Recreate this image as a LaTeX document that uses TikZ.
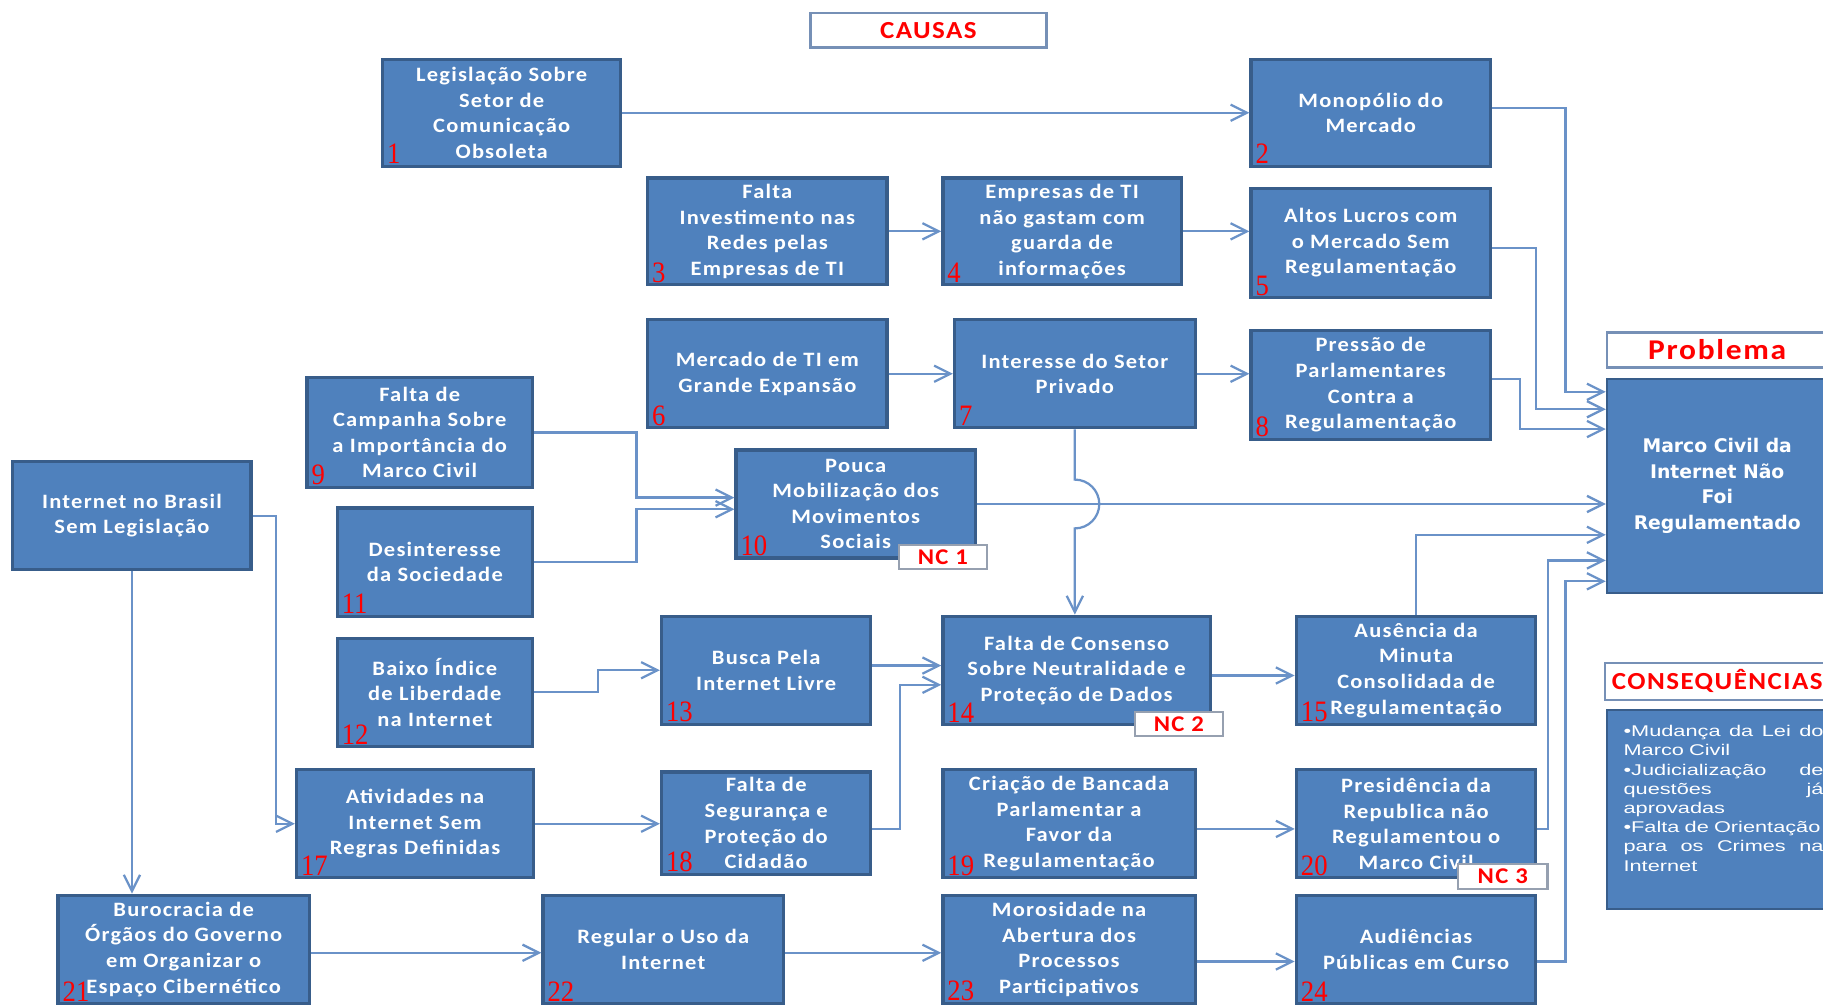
\documentclass[tikz,border=0pt]{standalone}
\usepackage{fontspec}
\usetikzlibrary{arrows.meta}
\newfontfamily\boxfont{Carlito}[FakeStretch=1.1,LetterSpace=6]
\newfontfamily\numfont{Liberation Serif}[FakeStretch=0.9]
\newfontfamily\probfont{DejaVu Sans}
\newfontfamily\consfont{Liberation Sans}[FakeStretch=1.4]
\definecolor{boxfill}{RGB}{79,129,189}
\definecolor{boxline}{RGB}{56,93,138}
\definecolor{linkblue}{RGB}{106,146,200}
\definecolor{tagline}{RGB}{118,144,182}
\definecolor{ncline}{RGB}{150,160,176}

\begin{document}
\begin{tikzpicture}[
  cause/.style={rectangle,draw=boxline,line width=1.6pt,fill=boxfill,text=white,align=center,
    inner sep=1pt,minimum width=4.12cm,minimum height=1.86cm,
    font=\boxfont\bfseries\fontsize{10}{12.5}\selectfont},
  numlbl/.style={anchor=south west,inner sep=0pt,text=red,font=\numfont\fontsize{14.5}{14.5}\selectfont},
  tagbox/.style={rectangle,draw=tagline,line width=1.2pt,fill=white,text=red,minimum height=0.6cm,
    font=\boxfont\bfseries\fontsize{12}{12}\selectfont},
  nc/.style={rectangle,draw=ncline,line width=1pt,fill=white,text=red,inner sep=0pt,
    minimum width=1.52cm,minimum height=0.42cm,font=\boxfont\bfseries\fontsize{11}{11}\selectfont},
  linkarrow/.style={-{Straight Barb[length=2.8mm,width=2.8mm]},draw=linkblue,line width=1.1pt}
]
  \path[use as bounding box,fill=white] (0,0) rectangle (31.36,17.28);

  \node[tagbox,minimum width=4.06cm] (causas) at (15.97,16.76) {CAUSAS};

  \node[cause,minimum width=4.10cm,minimum height=1.84cm] (b1) at (8.63,15.34) {Legislação Sobre\\Setor de\\Comunicação\\Obsoleta};
  \node[cause,minimum height=1.84cm] (b2) at (23.58,15.34) {Monopólio do\\Mercado};
  \node[cause,minimum height=1.84cm] (b3) at (13.20,13.30) {Falta\\Investimento nas\\Redes pelas\\Empresas de TI};
  \node[cause,minimum width=4.10cm,minimum height=1.84cm] (b4) at (18.27,13.30) {Empresas de TI\\não gastam com\\guarda de\\informações};
  \node[cause,minimum height=1.88cm] (b5) at (23.58,13.10) {Altos Lucros com\\o Mercado Sem\\Regulamentação};
  \node[cause] (b6) at (13.20,10.85) {Mercado de TI em\\Grande Expansão};
  \node[cause,minimum width=4.14cm] (b7) at (18.49,10.85) {Interesse do Setor\\Privado};
  \node[cause,minimum height=1.88cm] (b8) at (23.58,10.66) {Pressão de\\Parlamentares\\Contra a\\Regulamentação};
  \node[cause,minimum width=3.88cm,minimum height=1.88cm] (b9) at (7.22,9.84) {Falta de\\Campanha Sobre\\a Importância do\\Marco Civil};
  \node[cause,minimum width=4.10cm] (bI) at (2.27,8.41) {Internet no Brasil\\Sem Legislação};
  \node[cause] (b10) at (14.72,8.61) {Pouca\\Mobilização dos\\Movimentos\\Sociais};
  \node[cause,minimum width=3.36cm] (b11) at (7.48,7.61) {Desinteresse\\da Sociedade};
  \node[cause,minimum width=3.36cm] (b12) at (7.48,5.37) {Baixo Índice\\de Liberdade\\na Internet};
  \node[cause,minimum width=3.60cm] (b13) at (13.18,5.75) {Busca Pela\\Internet Livre};
  \node[cause,minimum width=4.60cm] (b14) at (18.52,5.75) {Falta de Consenso\\Sobre Neutralidade e\\Proteção de Dados};
  \node[cause] (b15) at (24.36,5.75) {Ausência da\\Minuta\\Consolidada de\\Regulamentação};
  \node[cause,minimum width=4.08cm] (b17) at (7.14,3.11) {Atividades na\\Internet Sem\\Regras Definidas};
  \node[cause,minimum width=3.60cm,minimum height=1.76cm] (b18) at (13.18,3.12) {Falta de\\Segurança e\\Proteção do\\Cidadão};
  \node[cause,minimum width=4.34cm] (b19) at (18.39,3.11) {Criação de Bancada\\Parlamentar a\\Favor da\\Regulamentação};
  \node[cause] (b20) at (24.36,3.11) {Presidência da\\Republica não\\Regulamentou o\\Marco Civil};
  \node[cause,minimum width=4.32cm] (b21) at (3.16,0.95) {Burocracia de\\Órgãos do Governo\\em Organizar o\\Espaço Cibernético};
  \node[cause,minimum width=4.14cm] (b22) at (11.41,0.95) {Regular o Uso da\\Internet};
  \node[cause,minimum width=4.34cm] (b23) at (18.39,0.95) {Morosidade na\\Abertura dos\\Processos\\Participativos};
  \node[cause] (b24) at (24.36,0.95) {Audiências\\Públicas em Curso};

  \foreach \i in {1,...,15,17,18,...,24}
    \node[numlbl] (n\i) at ([shift={(0.10,0.06)}]b\i.south west) {\i};

  \node[nc] (nc1) at (16.22,7.70) {NC 1};
  \node[nc] (nc2) at (20.28,4.83) {NC 2};
  \node[nc,minimum width=1.54cm,minimum height=0.44cm] (nc3) at (25.85,2.20) {NC 3};

  \node[tagbox,minimum width=3.80cm,font=\boxfont\bfseries\fontsize{14}{14}\selectfont] (probtag) at (29.54,11.26) {Problema};
  \node[cause,line width=1pt,minimum width=3.80cm,minimum height=3.68cm,
    font=\probfont\bfseries\fontsize{9.2}{12.6}\selectfont] (prob) at (29.54,8.92)
    {Marco Civil da\\Internet Não\\Foi\\Regulamentado};
  \node[tagbox,minimum width=3.80cm] (constag) at (29.54,5.56) {CONSEQUÊNCIAS};
  \node[cause,line width=1pt,minimum width=3.80cm,minimum height=3.42cm] (cons) at (29.54,3.35) {};
  \node[anchor=north west,inner sep=0pt,text width=3.44cm,align=left,text=white,
    font=\consfont\fontsize{7.6}{9.4}\selectfont] (constxt) at ([shift={(0.30,-0.27)}]cons.north west)
    {•Mudança\hfill da\hfill Lei\hfill do\\Marco Civil\\•Judicialização\hfill de\\questões\hfill já\\aprovadas\\
     \mbox{•Falta de Orientação}\\para\hfill os\hfill Crimes\hfill na\\Internet};

  \draw[linkarrow] (b1.east) -- (b1.east -| b2.west);
  \draw[linkarrow] (b3.east) -- (b3.east -| b4.west);
  \draw[linkarrow] (b4.east) -- (b4.east -| b5.west);
  \draw[linkarrow] (b6.east) -- (b6.east -| b7.west);
  \draw[linkarrow] (b7.east) -- (b7.east -| b8.west);
  \draw[linkarrow] ([yshift=0.08cm]b2.east) -- ++(1.26,0) |- ([yshift=1.62cm]prob.west);
  \draw[linkarrow] ([yshift=-0.08cm]b5.east) -- ++(0.76,0) |- ([yshift=1.32cm]prob.west);
  \draw[linkarrow] ([yshift=0.10cm]b8.east) -- ++(0.48,0) |- ([yshift=0.98cm]prob.west);
  \draw[linkarrow] (b9.east) -- ++(1.76,0) |- ([yshift=0.11cm]b10.west);
  \draw[linkarrow] (b11.east) -- ++(1.76,0) |- ([yshift=-0.09cm]b10.west);
  \draw[linkarrow] (b10.east) -- (b10.east -| prob.west);
  \draw[linkarrow] (b7.south) -- ([yshift=0.42cm]b7.south |- b10.east)
    arc[start angle=90,end angle=-90,radius=0.42] -- (b7.south |- b14.north);
  \draw[linkarrow] (bI.east) -- ++(0.40,0) |- (b17.west);
  \draw[linkarrow] (bI.south) -- (bI.south |- b21.north);
  \draw[linkarrow] (b12.east) -- ++(1.10,0) |- (b13.west);
  \draw[linkarrow] (b17.east) -- (b17.east -| b18.west);
  \draw[linkarrow] ([yshift=0.08cm]b13.east) -- ([yshift=0.08cm]b13.east -| b14.west);
  \draw[linkarrow] ([yshift=-0.10cm]b18.east) -- ++(0.48,0) |- ([yshift=-0.25cm]b14.west);
  \draw[linkarrow] ([yshift=-0.09cm]b14.east) -- ([yshift=-0.09cm]b14.east -| b15.west);
  \draw[linkarrow] (b15.north) |- ([yshift=-0.84cm]prob.west);
  \draw[linkarrow] ([yshift=-0.09cm]b19.east) -- ([yshift=-0.09cm]b19.east -| b20.west);
  \draw[linkarrow] ([yshift=-0.09cm]b20.east) -- ++(0.18,0) |- ([yshift=-1.28cm]prob.west);
  \draw[linkarrow] ([yshift=-0.06cm]b21.east) -- ([yshift=-0.06cm]b21.east -| b22.west);
  \draw[linkarrow] ([yshift=-0.06cm]b22.east) -- ([yshift=-0.06cm]b22.east -| b23.west);
  \draw[linkarrow] ([yshift=-0.21cm]b23.east) -- ([yshift=-0.21cm]b23.east -| b24.west);
  \draw[linkarrow] ([yshift=-0.21cm]b24.east) -- ++(0.48,0) |- ([yshift=-1.64cm]prob.west);
\end{tikzpicture}
\end{document}
